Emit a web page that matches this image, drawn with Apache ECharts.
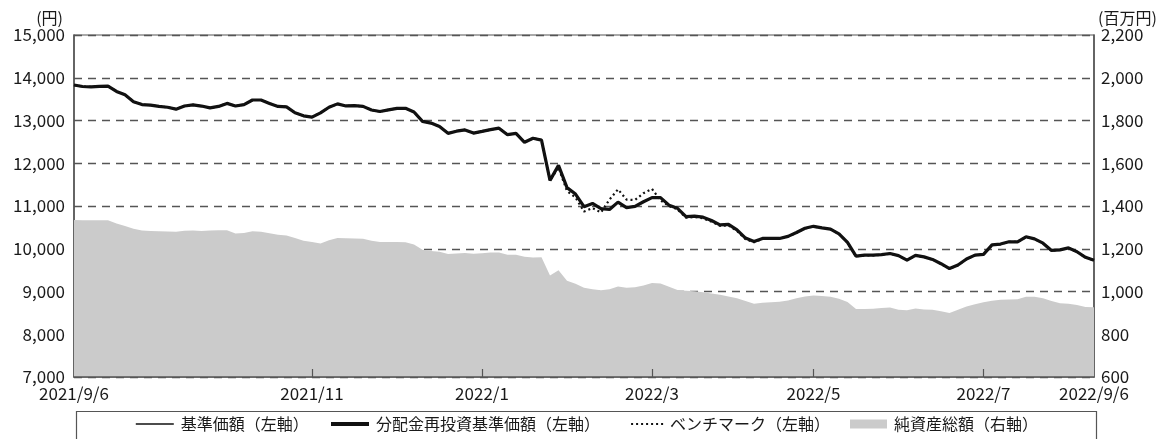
<!DOCTYPE html>
<html>
<head>
<meta charset="utf-8">
<style>
  html, body { margin: 0; padding: 0; background: #fff; }
  #chart { width: 1175px; height: 439px; }
</style>
<script src="https://cdn.jsdelivr.net/npm/echarts/dist/echarts.min.js"></script>
</head>
<body>
<div id="chart"></div>
<script>
// 基準価額 (円), one point every ~8.5px of the plot, 2021/9/6 -> 2022/9/6
const navValues = [
  13830, 13795, 13785, 13800, 13805, 13680, 13600, 13440, 13373, 13360,
  13330, 13310, 13265, 13340, 13365, 13338, 13295, 13330, 13400, 13340,
  13370, 13480, 13480, 13400, 13330, 13320, 13180, 13110, 13080, 13180,
  13310, 13389, 13340, 13350, 13330, 13245, 13210, 13250, 13285, 13285,
  13200, 12980, 12940, 12860, 12700, 12750, 12780, 12705, 12745, 12786,
  12820, 12669, 12700, 12490, 12585, 12540, 11600, 11950, 11430, 11280,
  10985, 11060, 10940, 10920, 11090, 10962, 10990, 11100, 11197, 11197,
  11020, 10946, 10750, 10765, 10738, 10660, 10560, 10570, 10440, 10250,
  10170, 10241, 10241, 10241, 10290, 10380, 10480, 10525, 10490, 10460,
  10350, 10150, 9827, 9850, 9850, 9862, 9888, 9840, 9735, 9845,
  9810, 9750, 9650, 9536, 9620, 9760, 9850, 9870, 10090, 10110,
  10163, 10163, 10280, 10230, 10130, 9960, 9975, 10020, 9930, 9800,
  9732
];
// 分配金再投資基準価額 (no distributions in the period, same as NAV)
const reinvestValues = navValues.slice();
// ベンチマーク
const benchValues = [
  13830, 13795, 13785, 13800, 13805, 13680, 13600, 13440, 13373, 13360,
  13330, 13310, 13265, 13340, 13365, 13338, 13295, 13330, 13400, 13340,
  13370, 13480, 13480, 13400, 13330, 13320, 13180, 13110, 13080, 13180,
  13310, 13389, 13340, 13350, 13330, 13245, 13210, 13250, 13285, 13285,
  13200, 12980, 12940, 12860, 12700, 12750, 12780, 12705, 12745, 12786,
  12820, 12669, 12700, 12490, 12585, 12540, 11600, 11900, 11350, 11200,
  10870, 10950, 10850, 11150, 11390, 11150, 11140, 11300, 11400, 11130,
  11000, 10920, 10725, 10740, 10712, 10635, 10535, 10545, 10415, 10225,
  10150, 10230, 10235, 10235, 10285, 10375, 10475, 10520, 10485, 10455,
  10345, 10145, 9820, 9845, 9845, 9858, 9884, 9836, 9730, 9840,
  9806, 9746, 9646, 9532, 9616, 9756, 9846, 9866, 10086, 10106,
  10160, 10160, 10276, 10226, 10126, 9956, 9971, 10016, 9926, 9796,
  9728
];
// 純資産総額 (百万円)
const assetValues = [
  1335, 1333, 1333, 1333, 1333, 1318, 1306, 1293, 1285, 1283,
  1282, 1281, 1279, 1284, 1285, 1283, 1285, 1287, 1286, 1271,
  1274, 1282, 1280, 1272, 1265, 1262, 1250, 1238, 1232, 1224,
  1240, 1250, 1249, 1248, 1247, 1238, 1231, 1231, 1231, 1230,
  1220, 1195, 1190, 1186, 1175, 1178, 1180, 1177, 1179, 1182,
  1182, 1172, 1172, 1162, 1159, 1160, 1075, 1100, 1050, 1036,
  1018, 1010, 1006, 1010, 1023, 1017, 1020, 1028, 1040, 1037,
  1022, 1007, 1003, 1001, 997, 991, 985, 977, 968, 955,
  943, 947, 950, 952, 958, 968, 977, 981, 979, 975,
  966, 951, 918, 918, 919, 923, 925, 915, 912, 920,
  916, 915, 908, 899, 915, 930, 940, 950, 957, 961,
  963, 964, 976, 975, 968, 955, 945, 943, 937, 927,
  926
];
const tickIndex = [0, 28, 48, 68, 87, 107, 120];
const tickLabels = ['2021/9/6', '2021/11', '2022/1', '2022/3', '2022/5', '2022/7', '2022/9/6'];

const FONT = 'Noto Sans CJK JP';
const AXIS = '#555';
const TEXT = '#1a1a1a';

let categories = navValues.map((v, i) => i);
let fmt = v => v.toLocaleString('en-US');

let myChart = echarts.init(document.getElementById('chart'));
let legendText = { fontSize: 16, color: TEXT, fontFamily: FONT, padding: [0, 0, 0, 2] };
// line legends: keep the line, hide the symbol
let lineLegend = (name, left, w, lw) => ({
  data: [name], left: left, top: 416, itemWidth: w, itemHeight: 9, padding: 0,
  itemStyle: { opacity: 0 }, lineStyle: { width: lw }, textStyle: legendText
});
let option = {
  animation: false,
  grid: {
    left: 74, right: 81, top: 35, bottom: 62,
    show: true, borderColor: AXIS, borderWidth: 1.2, backgroundColor: 'transparent'
  },
  xAxis: {
    type: 'category',
    data: categories,
    boundaryGap: false,
    z: 5,
    axisLine: { lineStyle: { color: AXIS, width: 1.5 } },
    axisTick: {
      inside: true, length: 8,
      lineStyle: { color: AXIS, width: 1.2 },
      interval: i => tickIndex.indexOf(i) > 0 && i !== 120
    },
    axisLabel: {
      interval: i => tickIndex.indexOf(i) >= 0,
      formatter: (v, i) => tickLabels[tickIndex.indexOf(Number(v))] || '',
      fontSize: 17, color: TEXT, fontFamily: FONT, margin: 8
    },
    splitLine: { show: false }
  },
  yAxis: [
    {
      type: 'value', min: 7000, max: 15000, interval: 1000,
      name: '(円)', nameLocation: 'end', nameGap: 9,
      nameTextStyle: { fontSize: 16, color: TEXT, fontFamily: FONT, align: 'right', padding: [0, 11, 0, 0] },
      axisLine: { show: true, lineStyle: { color: AXIS, width: 1.5 } },
      axisTick: { show: false },
      axisLabel: { formatter: fmt, fontSize: 17, color: TEXT, fontFamily: FONT, margin: 9 },
      splitLine: { show: true, lineStyle: { color: AXIS, width: 1.3, type: [8, 6] } }
    },
    {
      type: 'value', min: 600, max: 2200, interval: 200,
      name: '(百万円)', nameLocation: 'end', nameGap: 9,
      nameTextStyle: { fontSize: 16, color: TEXT, fontFamily: FONT, align: 'left', padding: [0, 0, 0, 4] },
      axisLine: { show: true, lineStyle: { color: AXIS, width: 1.5 } },
      axisTick: { show: false },
      axisLabel: { formatter: fmt, fontSize: 17, color: TEXT, fontFamily: FONT, margin: 7 },
      splitLine: { show: false }
    }
  ],
  legend: [
    lineLegend('基準価額（左軸）', 135, 38, 1.6),
    lineLegend('分配金再投資基準価額（左軸）', 329, 38, 4),
    lineLegend('ベンチマーク（左軸）', 630, 32, 2.2),
    {
      data: [{ name: '純資産総額（右軸）', icon: 'rect', itemStyle: { color: '#cbcbcb' } }],
      left: 850, top: 416, itemWidth: 37, itemHeight: 9, padding: 0, textStyle: legendText
    }
  ],
  graphic: [
    {
      type: 'rect', left: 74, top: 409, z: -1,
      shape: { width: 1020, height: 60 },
      style: { fill: 'none', stroke: AXIS, lineWidth: 1.2 }
    }
  ],
  series: [
    {
      name: '純資産総額（右軸）', type: 'line', yAxisIndex: 1,
      data: assetValues, symbol: 'none', smooth: false,
      lineStyle: { width: 0, color: '#cbcbcb' },
      itemStyle: { color: '#cbcbcb' },
      areaStyle: { color: '#cbcbcb', opacity: 1 }
    },
    {
      name: 'ベンチマーク（左軸）', type: 'line', data: benchValues, symbol: 'none',
      lineStyle: { width: 2.2, color: '#111', type: [2, 3] },
      itemStyle: { color: '#111' }
    },
    {
      name: '基準価額（左軸）', type: 'line', data: navValues, symbol: 'none',
      lineStyle: { width: 1.5, color: '#111' },
      itemStyle: { color: '#111' }
    },
    {
      name: '分配金再投資基準価額（左軸）', type: 'line', data: reinvestValues, symbol: 'none',
      lineStyle: { width: 3.2, color: '#111' },
      itemStyle: { color: '#111' }
    }
  ]
};
myChart.setOption(option);
</script>
</body>
</html>
